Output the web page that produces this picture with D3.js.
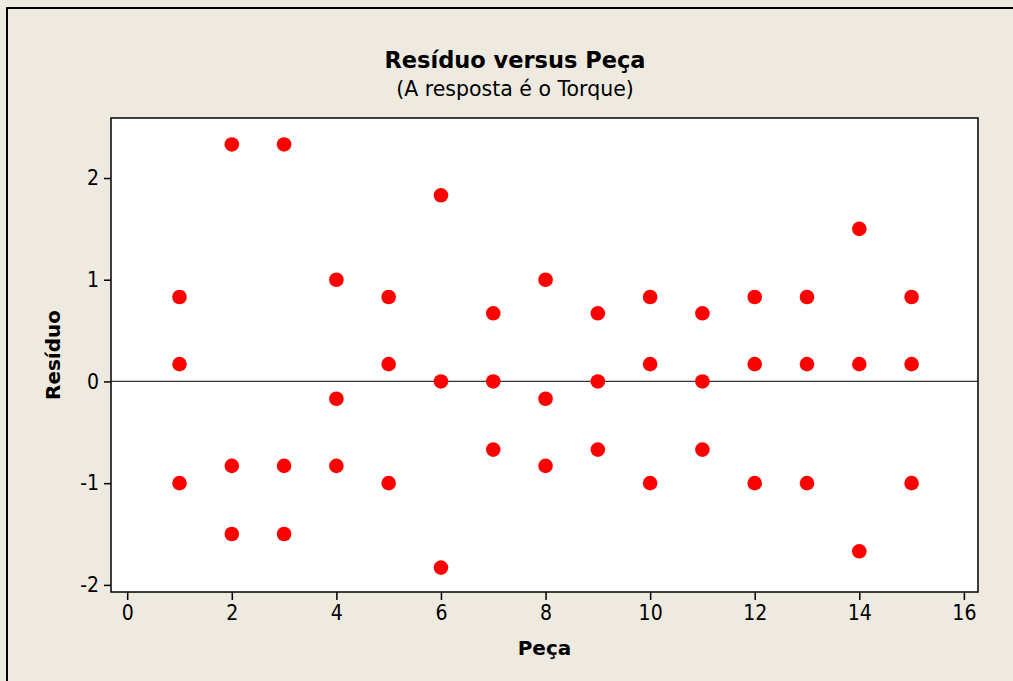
<!DOCTYPE html>
<html>
<head>
<meta charset="utf-8">
<script src="https://cdn.jsdelivr.net/npm/d3@7"></script>
<style>
  body { margin: 0; background: #EEEAE0; }
  text { font-family: "DejaVu Sans", sans-serif; fill: #000; }
</style>
</head>
<body>
<div id="vis"></div>
<script>
// set width and height for svg
var width = 1013;
var height = 681;

// data: three residuals per peça
var pecas = [1, 2, 3, 4, 5, 6, 7, 8, 9, 10, 11, 12, 13, 14, 15];
var residuoAlto = [0.83, 2.33, 2.33, 1.0, 0.83, 1.83, 0.67, 1.0, 0.67, 0.83, 0.67, 0.83, 0.83, 1.5, 0.83];
var residuoMeio = [0.17, -0.83, -0.83, -0.17, 0.17, 0, 0, -0.17, 0, 0.17, 0, 0.17, 0.17, 0.17, 0.17];
var residuoBaixo = [-1.0, -1.5, -1.5, -0.83, -1.0, -1.83, -0.67, -0.83, -0.67, -1.0, -0.67, -1.0, -1.0, -1.67, -1.0];
var xTicks = [0, 2, 4, 6, 8, 10, 12, 14, 16];
var yTicks = [-2, -1, 0, 1, 2];

// plot area
var plot = {left: 111, right: 978, top: 118, bottom: 592};

var svg = d3.select("#vis").append("svg")
  .attr("width", width)
  .attr("height", height);

// outer frame
svg.append("rect")
  .attr("x", 7).attr("y", 8)
  .attr("width", width + 10).attr("height", height + 10)
  .attr("fill", "#EEEAE0")
  .attr("stroke", "#000")
  .attr("stroke-width", 2);

var x = d3.scaleLinear()
  .domain([-0.31, 16.27])
  .range([plot.left, plot.right]);

var y = d3.scaleLinear()
  .domain([-2.07, 2.59])
  .range([plot.bottom, plot.top]);

// white plot background
svg.append("rect")
  .attr("x", plot.left).attr("y", plot.top)
  .attr("width", plot.right - plot.left)
  .attr("height", plot.bottom - plot.top)
  .attr("fill", "#fff");

// reference line at zero
svg.append("line")
  .attr("x1", plot.left).attr("x2", plot.right)
  .attr("y1", y(0)).attr("y2", y(0))
  .attr("stroke", "#333")
  .attr("stroke-width", 1.2);

// points
var points = [];
pecas.forEach(function(p, i) {
  points.push({peca: p, residuo: residuoAlto[i]});
  points.push({peca: p, residuo: residuoMeio[i]});
  points.push({peca: p, residuo: residuoBaixo[i]});
});

svg.selectAll(".ponto")
  .data(points)
  .enter()
  .append("circle")
  .attr("class", "ponto")
  .attr("cx", d => x(d.peca))
  .attr("cy", d => y(d.residuo))
  .attr("r", 7.3)
  .attr("fill", "#FF0000");

// plot border
svg.append("rect")
  .attr("x", plot.left).attr("y", plot.top)
  .attr("width", plot.right - plot.left)
  .attr("height", plot.bottom - plot.top)
  .attr("fill", "none")
  .attr("stroke", "#000")
  .attr("stroke-width", 1.5);

// axes
var xAxis = svg.append("g")
  .attr("transform", "translate(0," + plot.bottom + ")")
  .call(d3.axisBottom(x).tickValues(xTicks).tickSize(8).tickPadding(5));

var yAxis = svg.append("g")
  .attr("transform", "translate(" + plot.left + ",0)")
  .call(d3.axisLeft(y).tickValues(yTicks).tickSize(7).tickPadding(5));

[xAxis, yAxis].forEach(function(a) {
  a.select(".domain").remove();
  a.selectAll(".tick line").attr("stroke", "#000").attr("stroke-width", 1.5);
  a.selectAll(".tick text")
    .style("font-size", "21px")
    .style("font-family", "'DejaVu Sans Condensed', 'DejaVu Sans', sans-serif")
    .attr("fill", "#000");
});
yAxis.selectAll(".tick text").text(d => d < 0 ? "-" + Math.abs(d) : d);

// titles
svg.append("text")
  .attr("x", 515).attr("y", 68)
  .attr("text-anchor", "middle")
  .style("font-size", "22.5px")
  .style("font-weight", "bold")
  .text("Resíduo versus Peça");

svg.append("text")
  .attr("x", 515).attr("y", 96)
  .attr("text-anchor", "middle")
  .style("font-size", "20.5px")
  .text("(A resposta é o Torque)");

svg.append("text")
  .attr("x", (plot.left + plot.right) / 2).attr("y", 655)
  .attr("text-anchor", "middle")
  .style("font-size", "20px")
  .style("font-weight", "bold")
  .text("Peça");

svg.append("text")
  .attr("transform", "translate(60," + (plot.top + plot.bottom) / 2 + ") rotate(-90)")
  .attr("text-anchor", "middle")
  .style("font-size", "20px")
  .style("font-weight", "bold")
  .text("Resíduo");
</script>
</body>
</html>
